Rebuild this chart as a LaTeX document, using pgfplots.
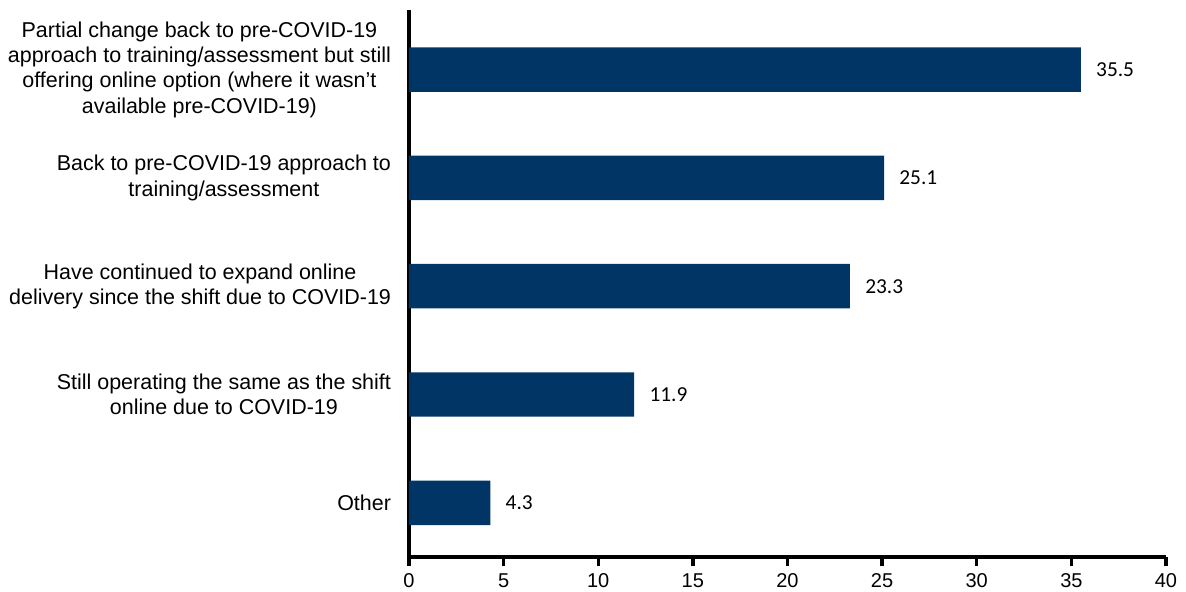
\documentclass[border=0pt]{standalone}
\usepackage{pgfplots}
\pgfplotsset{compat=1.18}
\usepackage{fontspec}
\setmainfont{Liberation Sans}
\newfontfamily\calibri{Carlito}
\definecolor{barblue}{RGB}{0,53,102}
\begin{document}
\begin{tikzpicture}
\useasboundingbox (-306.75pt,-26.25pt) rectangle (582.75pt,417.75pt);
\begin{axis}[
  at={(0,0)}, anchor=south west,
  scale only axis,
  width=567.75pt, height=410.25pt,
  xbar, bar width=0.41,
  xmin=0, xmax=40,
  ymin=-0.5, ymax=4.55,
  axis x line*=bottom, axis y line*=left,
  axis line style={line width=2.5pt, -},
  x axis line style={shorten <=-1.25pt},
  xtick={0,5,...,40},
  tick style={line width=2.5pt, black},
  major tick length=7pt,
  tick align=outside,
  ytick={0,1,2,3,4},
  yticklabels={Other,
    {Still operating the same as the shift\\online due to COVID-19},
    {Have continued to expand online\\delivery since the shift due to COVID-19},
    {Back to pre-COVID-19 approach to\\training/assessment},
    {Partial change back to pre-COVID-19\\approach to training/assessment but still\\offering online option (where it wasn’t\\available pre-COVID-19)}},
  ytick style={draw=none},
  yticklabel style={align=center, font=\fontsize{16.1}{19}\selectfont, xshift=-3pt},
  xticklabel style={font=\fontsize{15}{17}\selectfont, yshift=-2pt},
  /pgf/number format/assume math mode=true,
  nodes near coords,
  nodes near coords align={horizontal},
  every node near coord/.append style={font=\calibri\fontsize{16}{19}\selectfont, anchor=west, xshift=8pt, black},
  point meta=explicit symbolic,
  clip=false,
]
\addplot[fill=barblue, draw=none] coordinates {
  (4.3,0) [4.3]
  (11.9,1) [11.9]
  (23.3,2) [23.3]
  (25.1,3) [25.1]
  (35.5,4) [35.5]
};
\end{axis}
\end{tikzpicture}
\end{document}
